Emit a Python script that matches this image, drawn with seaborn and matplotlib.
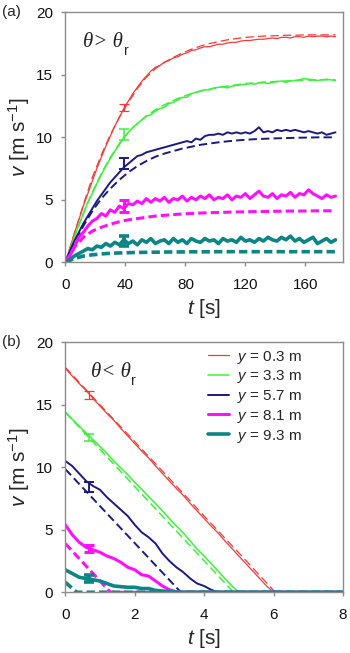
import numpy as np
import pandas as pd
import matplotlib
matplotlib.use("Agg")
import matplotlib.pyplot as plt
import seaborn as sns

# ---------------- data: panel (a)  theta > theta_r ----------------
t_a = [3 * i for i in range(61)]          # 0 .. 180 s, solid curves
t_a_model = [6 * i for i in range(31)]    # 0 .. 180 s, dashed curves

red_a = [0.0, 1.1, 2.3, 3.4, 4.5, 5.5, 6.5, 7.5, 8.4, 9.3, 10.1, 10.9, 11.6, 12.3, 12.9, 13.5,
         14.0, 14.5, 14.9, 15.3, 15.6, 15.75, 16.0, 16.15, 16.35, 16.45, 16.65, 16.75, 16.95, 17.0,
         17.15, 17.25, 17.25, 17.35, 17.45, 17.45, 17.55, 17.6, 17.6, 17.7, 17.75, 17.75, 17.8,
         17.85, 17.85, 17.9, 17.95, 17.9, 18.0, 18.0, 17.95, 18.05, 18.05, 18.0, 18.1, 18.05, 18.1,
         18.1, 18.05, 18.1, 18.05]
green_a = [0.0, 1.0, 2.0, 3.0, 3.9, 4.8, 5.5, 6.3, 7.0, 7.7, 8.3, 8.9, 9.4, 10.0, 10.4, 10.8,
           11.1, 11.4, 11.7, 11.8, 12.1, 12.3, 12.4, 12.7, 12.8, 13.0, 13.2, 13.2, 13.5, 13.6,
           13.7, 13.8, 13.8, 13.95, 14.0, 14.05, 13.95, 14.1, 14.15, 14.2, 14.25, 14.3, 14.25,
           14.35, 14.4, 14.3, 14.4, 14.45, 14.5, 14.4, 14.5, 14.55, 14.6, 14.7, 14.65, 14.6,
           14.55, 14.6, 14.65, 14.6, 14.55]
navy_a = [0.0, 0.9, 1.7, 2.4, 3.1, 3.7, 4.3, 4.9, 5.4, 5.9, 6.4, 6.8, 7.2, 7.6, 7.9, 8.2,
          8.5, 8.6, 8.8, 8.9, 9.0, 9.1, 9.2, 9.3, 9.4, 9.5, 9.6, 9.7, 9.6, 9.9, 9.8, 10.1,
          10.2, 10.2, 10.3, 10.2, 10.4, 10.3, 10.4, 10.3, 10.4, 10.3, 10.5, 10.8, 10.4, 10.5,
          10.4, 10.6, 10.5, 10.6, 10.5, 10.6, 10.5, 10.4, 10.5, 10.4, 10.3, 10.4, 10.2, 10.3, 10.4]
magenta_a = [0.0, 0.5, 1.2, 2.0, 2.4, 2.9, 3.3, 3.5, 3.9, 3.7, 4.2, 4.0, 4.5, 4.3, 4.7, 4.6,
             4.9, 4.7, 5.1, 4.8, 5.1, 4.9, 5.2, 4.8, 5.1, 5.0, 5.3, 4.9, 5.2, 5.0, 5.3, 5.1,
             5.4, 5.0, 5.2, 5.1, 5.4, 5.0, 5.3, 5.2, 5.5, 5.1, 5.4, 5.7, 5.3, 5.2, 5.5, 5.1,
             5.4, 5.3, 5.6, 5.2, 5.5, 5.4, 5.8, 5.5, 5.3, 5.1, 5.4, 5.2, 5.3]
teal_a = [0.0, 0.2, 0.5, 0.7, 0.9, 1.1, 1.0, 1.3, 1.2, 1.5, 1.3, 1.6, 1.4, 1.8, 1.5, 1.7,
          1.4, 1.8, 1.6, 1.9, 1.5, 1.7, 1.8, 1.5, 1.9, 1.6, 1.8, 1.5, 1.9, 1.7, 1.6, 1.9,
          1.7, 1.8, 1.5, 1.9, 1.7, 1.8, 1.6, 2.0, 1.7, 1.8, 1.6, 1.9, 1.7, 2.0, 1.8, 1.7,
          2.0, 1.8, 2.1, 1.7, 1.9, 1.6, 1.8, 2.0, 1.5, 1.7, 1.9, 1.6, 1.8]

red_a_model = [0, 2.3, 4.6, 6.8, 8.6, 10.2, 11.6, 12.8, 13.9, 14.8, 15.5, 16.0, 16.4, 16.75,
               17.05, 17.3, 17.5, 17.65, 17.8, 17.9, 18.0, 18.05, 18.1, 18.12, 18.15, 18.17,
               18.18, 18.2, 18.2, 18.2, 18.2]
green_a_model = [0, 2.0, 3.9, 5.6, 7.1, 8.4, 9.5, 10.4, 11.1, 11.7, 12.2, 12.6, 12.95, 13.25,
                 13.5, 13.7, 13.85, 14.0, 14.1, 14.2, 14.3, 14.35, 14.4, 14.45, 14.5, 14.52,
                 14.55, 14.57, 14.6, 14.6, 14.6]
navy_a_model = [0, 1.5, 2.9, 4.1, 5.1, 5.9, 6.6, 7.2, 7.7, 8.1, 8.45, 8.7, 8.9, 9.1, 9.25, 9.4,
                9.5, 9.6, 9.68, 9.75, 9.8, 9.85, 9.88, 9.91, 9.93, 9.95, 9.97, 9.98, 10.0, 10.0, 10.0]
magenta_a_model = [0, 1.2, 2.0, 2.5, 2.8, 3.05, 3.25, 3.4, 3.5, 3.6, 3.7, 3.76, 3.82, 3.87,
                   3.91, 3.94, 3.97, 3.99, 4.01, 4.03, 4.04, 4.06, 4.07, 4.08, 4.09, 4.1, 4.1,
                   4.11, 4.12, 4.12, 4.12]
teal_a_model = [0, 0.3, 0.5, 0.6, 0.67, 0.72, 0.75, 0.77, 0.79, 0.8, 0.81, 0.82, 0.83, 0.83,
                0.84, 0.84, 0.84, 0.85, 0.85, 0.85, 0.85, 0.85, 0.85, 0.85, 0.85, 0.85, 0.85,
                0.85, 0.85, 0.85, 0.85]

err_t_a = 39
err_v_a = [12.4, 10.2, 7.9, 4.5, 1.7]
err_e_a = [0.3, 0.45, 0.45, 0.5, 0.4]

# ---------------- data: panel (b)  theta < theta_r ----------------
t_b = [round(0.2 * i, 1) for i in range(41)]   # 0 .. 8 s
red_b = [17.9, 17.3, 16.7, 16.15, 15.5, 14.9, 14.3, 13.75, 13.1, 12.5, 11.9, 11.3, 10.75, 10.1,
         9.5, 8.9, 8.3, 7.75, 7.1, 6.5, 5.9, 5.3, 4.75, 4.1, 3.5, 2.9, 2.3, 1.7, 1.1, 0.5, 0.0,
         0, 0, 0, 0, 0, 0, 0, 0, 0, 0]
green_b = [14.4, 13.85, 13.3, 12.75, 12.2, 11.65, 11.1, 10.5, 9.95, 9.4, 8.8, 8.25, 7.65, 7.1,
           6.5, 5.9, 5.3, 4.75, 4.1, 3.45, 2.9, 2.3, 1.7, 1.1, 0.5, 0.0,
           0, 0, 0, 0, 0, 0, 0, 0, 0, 0, 0, 0, 0, 0, 0]
navy_b = [10.5, 10.1, 9.5, 8.9, 8.5, 8.2, 7.6, 7.1, 6.6, 6.1, 5.4, 4.8, 4.4, 3.9, 3.1, 2.5,
          2.0, 1.6, 1.1, 0.7, 0.5, 0.2, 0.0, 0, 0, 0, 0, 0, 0, 0, 0, 0, 0, 0, 0, 0, 0, 0, 0, 0, 0]
magenta_b = [5.4, 4.6, 4.0, 3.6, 3.4, 3.2, 2.9, 2.7, 2.4, 2.0, 1.8, 1.4, 1.3, 0.9, 0.5, 0.2,
             0.05, 0.0, 0, 0, 0, 0, 0, 0, 0, 0, 0, 0, 0, 0, 0, 0, 0, 0, 0, 0, 0, 0, 0, 0, 0]
teal_b = [1.8, 1.5, 1.2, 1.1, 1.0, 0.9, 0.7, 0.5, 0.45, 0.4, 0.4, 0.3, 0.3, 0.15, 0.1, 0.05,
          0.0, 0, 0, 0, 0, 0, 0, 0, 0, 0, 0, 0, 0, 0, 0, 0, 0, 0, 0, 0, 0, 0, 0, 0, 0]

red_b_model_t = [0, 1, 2, 3, 4, 5, 6.05, 7, 8]
red_b_model = [18.0, 15.0, 12.05, 9.1, 6.1, 3.15, 0, 0, 0]
green_b_model_t = [0, 1, 2, 3, 4, 4.85, 6, 7, 8]
green_b_model = [14.4, 11.43, 8.46, 5.49, 2.52, 0, 0, 0, 0]
navy_b_model_t = [0, 3.33, 5, 8]
navy_b_model = [9.85, 0, 0, 0]
magenta_b_model_t = [0, 1.3, 4, 8]
magenta_b_model = [3.9, 0, 0, 0]
teal_b_model_t = [0, 0.33, 4, 8]
teal_b_model = [0.8, 0, 0, 0]

err_t_b = 0.68
err_v_b = [15.8, 12.4, 8.4, 3.5, 1.1]
err_e_b = [0.3, 0.3, 0.4, 0.3, 0.3]

labels = ["$y$ = 0.3 m", "$y$ = 3.3 m", "$y$ = 5.7 m", "$y$ = 8.1 m", "$y$ = 9.3 m"]
colors = ["#f23a3a", "#3cf03c", "#1a1a80", "#ff10ff", "#0e8585"]
widths = [0.9, 1.1, 1.4, 2.2, 2.6]

# ---------------- style ----------------
sns.set_theme(style="ticks")
plt.rcParams["font.family"] = ["Liberation Sans", "DejaVu Sans"]
plt.rcParams["mathtext.fontset"] = "custom"
plt.rcParams["mathtext.rm"] = "Liberation Sans"
plt.rcParams["mathtext.it"] = "Liberation Sans:italic"
plt.rcParams["lines.scale_dashes"] = False

fig = plt.figure(figsize=(3.5, 6.53), dpi=100)
ax_a = fig.add_axes([0.1866, 0.5983, 0.7934, 0.3828])
ax_b = fig.add_axes([0.1866, 0.093, 0.7934, 0.3828])

dash = (0, (6, 3))

solid_a = [red_a, green_a, navy_a, magenta_a, teal_a]
model_a = [red_a_model, green_a_model, navy_a_model, magenta_a_model, teal_a_model]
for v, vm, c, w in zip(solid_a, model_a, colors, widths):
    sns.lineplot(x=t_a_model, y=vm, ax=ax_a, color=c, linewidth=w, linestyle=dash)
    sns.lineplot(x=t_a, y=v, ax=ax_a, color=c, linewidth=w)
for v, e, c, w in zip(err_v_a, err_e_a, colors, widths):
    ax_a.errorbar([err_t_a], [v], yerr=[e], fmt="none", ecolor=c, elinewidth=w, capsize=3.5,
                  capthick=w)

solid_b = [red_b, green_b, navy_b, magenta_b, teal_b]
model_b = [(red_b_model_t, red_b_model), (green_b_model_t, green_b_model),
           (navy_b_model_t, navy_b_model), (magenta_b_model_t, magenta_b_model),
           (teal_b_model_t, teal_b_model)]
handles = []
for v, (tm, vm), c, w, lab in zip(solid_b, model_b, colors, widths, labels):
    sns.lineplot(x=tm, y=vm, ax=ax_b, color=c, linewidth=w, linestyle=dash)
    sns.lineplot(x=t_b, y=v, ax=ax_b, color=c, linewidth=w)
    handles.append(ax_b.lines[-1])
for v, e, c, w in zip(err_v_b, err_e_b, colors, widths):
    ax_b.errorbar([err_t_b], [v], yerr=[e], fmt="none", ecolor=c, elinewidth=w, capsize=3.5,
                  capthick=w)

ax_b.legend(handles, labels, loc="upper left", bbox_to_anchor=(0.515, 0.975), frameon=False,
            fontsize=11, handlelength=1.35, handletextpad=0.5, labelspacing=0.18,
            borderpad=0, borderaxespad=0)

for ax, xmax, xt in [(ax_a, 185, [0, 40, 80, 120, 160]), (ax_b, 8, [0, 2, 4, 6, 8])]:
    ax.set_xlim(0, xmax)
    ax.set_ylim(0, 20)
    ax.set_xticks(xt)
    ax.set_yticks([0, 5, 10, 15, 20])
    for s in ax.spines.values():
        s.set_visible(True)
        s.set_color("#8c8c8c")
        s.set_linewidth(1.0)
    ax.tick_params(direction="out", length=3, width=1, color="#8c8c8c", labelsize=11,
                   labelcolor="#111111")
    ax.tick_params(axis="x", pad=8)
    ax.tick_params(axis="y", pad=6)
    ax.set_ylabel("$v$ [m s$^{-1}$]", fontsize=15, labelpad=3)
    ax.set_xlabel("$t$ [s]", fontsize=15, labelpad=4)

# annotations
for ax, sym, x0 in [(ax_a, ">", 0.064), (ax_b, "<", 0.091)]:
    txt = ax.text(x0, 0.86, "θ" + sym + " θ", transform=ax.transAxes, fontsize=15,
                  family="Liberation Serif", style="italic", va="baseline", ha="left")
    ax.annotate("r", xy=(1, 0), xycoords=txt, xytext=(0.5, -2), textcoords="offset points",
                fontsize=10, va="baseline", ha="left")

fig.text(0.006, 0.981, "(a)", fontsize=11, va="center", ha="left")
fig.text(0.006, 0.476, "(b)", fontsize=11, va="center", ha="left")

fig.savefig("out.png", dpi=100)
